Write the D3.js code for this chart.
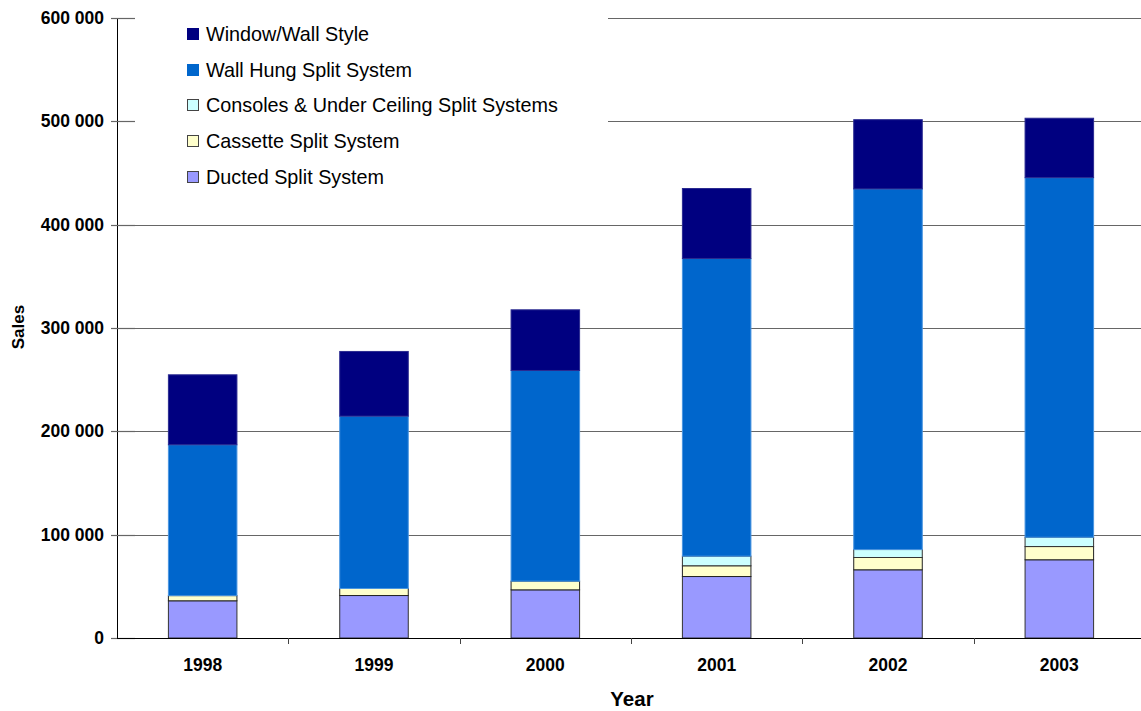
<!DOCTYPE html>
<html><head><meta charset="utf-8">
<script src="https://cdn.jsdelivr.net/npm/d3@7"></script>
<style>body{margin:0;background:#fff}svg{display:block;font-family:Arial,"Liberation Sans",sans-serif}</style>
</head><body><svg id="c" width="1141" height="711"></svg>
<script>
const years = ["1998","1999","2000","2001","2002","2003"];
const seriesNames = ["Ducted Split System","Cassette Split System","Consoles & Under Ceiling Split Systems","Wall Hung Split System","Window/Wall Style"];
const ducted   = [36000, 41100, 46600, 59500, 66000, 75700];
const cassette = [5000, 6800, 8400, 10400, 11900, 12800];
const consoles = [0, 0, 0, 9300, 7700, 9000];
const wallHung = [146000, 166800, 203900, 288100, 349000, 348000];
const windowWall = [67700, 62600, 58700, 67700, 67000, 57500];
const yTicks = [0,100000,200000,300000,400000,500000,600000];
const colors = ["#9999FF","#FFFFCC","#CCFFFF","#0066CC","#000080"];
const strokes = ["#333","#222","#333","#4a95e0","#2a2a90"];

const svg = d3.select("#c");
const L=117, R=1145, T=18, B=638;
const x = d3.scaleBand().domain(years).range([L,R]).paddingInner(0.6).paddingOuter(0.3);
const y = d3.scaleLinear().domain([0,600000]).range([B,T]);

const rows = years.map((yr,i)=>({year:yr, s0:ducted[i], s1:cassette[i], s2:consoles[i], s3:wallHung[i], s4:windowWall[i]}));
const stack = d3.stack().keys(["s0","s1","s2","s3","s4"])(rows);

// gridlines
svg.append("g").selectAll("line").data(yTicks.slice(1)).join("line")
  .attr("x1",L).attr("x2",1141).attr("y1",d=>Math.round(y(d))+0.5).attr("y2",d=>Math.round(y(d))+0.5)
  .attr("stroke","#666").attr("stroke-width",1.2);

// legend background covering gridlines
svg.append("rect").attr("x",135).attr("y",5).attr("width",473).attr("height",192).attr("fill","#fff");

// bars
stack.forEach((layer,k)=>{
  svg.append("g").selectAll("rect").data(layer.filter(d=>d[1]-d[0]>0)).join("rect")
    .attr("x",d=>x(d.data.year)).attr("width",x.bandwidth())
    .attr("y",d=>y(d[1])).attr("height",d=>y(d[0])-y(d[1]))
    .attr("fill",colors[k]).attr("stroke",strokes[k]).attr("stroke-width",1);
});

// y axis
svg.append("line").attr("x1",L+0.5).attr("x2",L+0.5).attr("y1",T).attr("y2",B).attr("stroke","#000");
const yg = svg.append("g");
yg.selectAll("line").data(yTicks).join("line")
  .attr("x1",L-6).attr("x2",L+18).attr("y1",d=>Math.round(y(d))+0.5).attr("y2",d=>Math.round(y(d))+0.5)
  .attr("stroke","#666").attr("stroke-width",1.2);
yg.selectAll("text").data(yTicks).join("text")
  .attr("x",104).attr("y",d=>y(d)).attr("dy","0.35em").attr("text-anchor","end")
  .attr("font-size",17.5).attr("font-weight","bold").text(d=>d3.format(",")(d).replace(/,/g," "));

// x axis
svg.append("line").attr("x1",L).attr("x2",1141).attr("y1",B+0.5).attr("y2",B+0.5).attr("stroke","#000");
const step = x.step();
const bounds = years.slice(0,-1).map(yr=>x(yr)+x.bandwidth()+(step-x.bandwidth())/2);
svg.append("g").selectAll("line").data(bounds).join("line")
  .attr("x1",d=>Math.round(d)+0.5).attr("x2",d=>Math.round(d)+0.5).attr("y1",B).attr("y2",B+6).attr("stroke","#444");
svg.append("g").selectAll("text").data(years).join("text")
  .attr("x",d=>x(d)+x.bandwidth()/2).attr("y",671).attr("text-anchor","middle")
  .attr("font-size",17.5).attr("font-weight","bold").text(d=>d);

// axis titles
svg.append("text").attr("x",632).attr("y",706).attr("text-anchor","middle")
  .attr("font-size",20.5).attr("font-weight","bold").text("Year");
svg.append("text").attr("transform","translate(24,327) rotate(-90)").attr("text-anchor","middle")
  .attr("font-size",17).attr("font-weight","bold").text("Sales");

// legend
const legOrder = [4,3,2,1,0];
const legY = [34,70,105,141,177];
const lg = svg.append("g");
legOrder.forEach((k,i)=>{
  lg.append("rect").attr("x",187.5).attr("y",legY[i]-5.5).attr("width",11).attr("height",11)
    .attr("fill",colors[k]).attr("stroke",k>=3?colors[k]:"#444").attr("stroke-width",1);
  lg.append("text").attr("x",206).attr("y",legY[i]).attr("dy","0.35em")
    .attr("font-size",19.8).text(seriesNames[k]);
});
</script></body></html>
